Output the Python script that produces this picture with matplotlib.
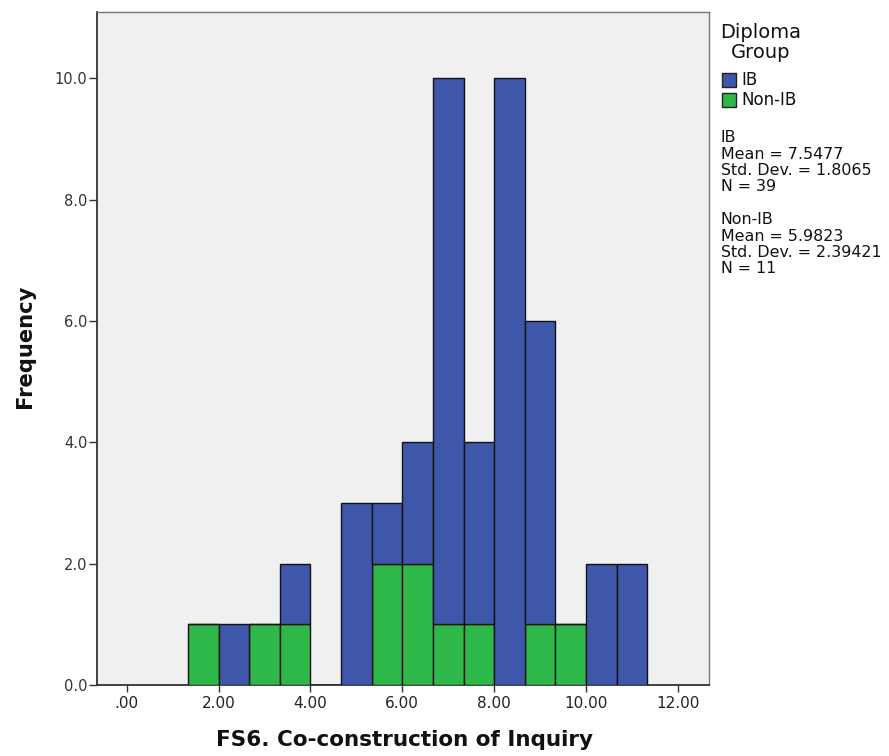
import matplotlib
matplotlib.use("Agg")
import matplotlib.pyplot as plt
from matplotlib.patches import Rectangle

# Data: stacked histogram counts per bin (bin width 2/3)
bin_lefts = [1.3333, 2.0, 2.6667, 3.3333, 4.0, 4.6667, 5.3333, 6.0, 6.6667,
             7.3333, 8.0, 8.6667, 9.3333, 10.0, 10.6667]
bin_width = 0.6667
non_ib_counts = [1, 0, 1, 1, 0, 0, 2, 2, 1, 1, 0, 1, 1, 0, 0]
ib_counts     = [0, 1, 0, 1, 0, 3, 1, 2, 9, 3, 10, 5, 0, 2, 2]
groups = ["IB", "Non-IB"]
x_ticks = [0, 2, 4, 6, 8, 10, 12]
x_tick_labels = [".00", "2.00", "4.00", "6.00", "8.00", "10.00", "12.00"]
y_ticks = [0, 2, 4, 6, 8, 10]
y_tick_labels = ["0.0", "2.0", "4.0", "6.0", "8.0", "10.0"]
stats_ib = ["IB", "Mean = 7.5477", "Std. Dev. = 1.8065", "N = 39"]
stats_non = ["Non-IB", "Mean = 5.9823", "Std. Dev. = 2.39421", "N = 11"]

blue = "#3E57AA"
green = "#2FB84A"
W, H = 889, 756
fig = plt.figure(figsize=(W / 100, H / 100), dpi=100)
fig.patch.set_facecolor("white")
ax = fig.add_axes([97 / W, 1 - 685 / H, (709 - 97) / W, (685 - 12) / H])
ax.set_facecolor("#F0F0F0")

ax.bar(bin_lefts, non_ib_counts, width=bin_width, align="edge", color=green,
       edgecolor="#111111", linewidth=1.0, zorder=3)
ax.bar(bin_lefts, ib_counts, width=bin_width, bottom=non_ib_counts, align="edge",
       color=blue, edgecolor="#111111", linewidth=1.0, zorder=3)

ax.set_xlim(-0.65, 12.68)
ax.set_ylim(0, 11.09)
ax.set_xticks(x_ticks)
ax.set_xticklabels(x_tick_labels, fontsize=11, color="#222222")
ax.set_yticks(y_ticks)
ax.set_yticklabels(y_tick_labels, fontsize=10.5, color="#333333")
ax.tick_params(axis="x", direction="out", length=5, width=1, color="#333333", pad=3)
ax.tick_params(axis="y", direction="out", length=6, width=1, color="#333333", pad=1)

for s in ["left", "bottom"]:
    ax.spines[s].set_color("#333333")
    ax.spines[s].set_linewidth(1.3)
for s in ["top", "right"]:
    ax.spines[s].set_color("#777777")
    ax.spines[s].set_linewidth(1.0)

fig.text(405 / W, 1 - 740 / H, "FS6. Co-construction of Inquiry",
         fontweight="bold", fontsize=15.5, ha="center", va="center", color="#111111")
fig.text(25 / W, 1 - 346 / H, "Frequency",
         fontweight="bold", fontsize=15.2, rotation=90, ha="center", va="center",
         color="#111111")

# Legend
fig.text(720 / W, 1 - 33 / H, "Diploma", fontsize=14, ha="left", va="center",
         color="#111111")
fig.text(731 / W, 1 - 52 / H, "Group", fontsize=14, ha="left", va="center",
         color="#111111")
for i, (g, c) in enumerate(zip(groups, [blue, green])):
    yc = 80 + i * 20
    fig.patches.append(Rectangle((722 / W, 1 - (yc + 7) / H), 14 / W, 14 / H,
                                 transform=fig.transFigure, facecolor=c,
                                 edgecolor="#222222", linewidth=1.0))
    fig.text(741 / W, 1 - yc / H, g, fontsize=12, ha="left", va="center",
             color="#111111")

for j, line in enumerate(stats_ib):
    fig.text(721 / W, 1 - (138 + 16.3 * j) / H, line, fontsize=11.4, ha="left",
             va="center", color="#111111")
for j, line in enumerate(stats_non):
    fig.text(721 / W, 1 - (220 + 16.3 * j) / H, line, fontsize=11.4, ha="left",
             va="center", color="#111111")

fig.savefig("out.png", dpi=100)
